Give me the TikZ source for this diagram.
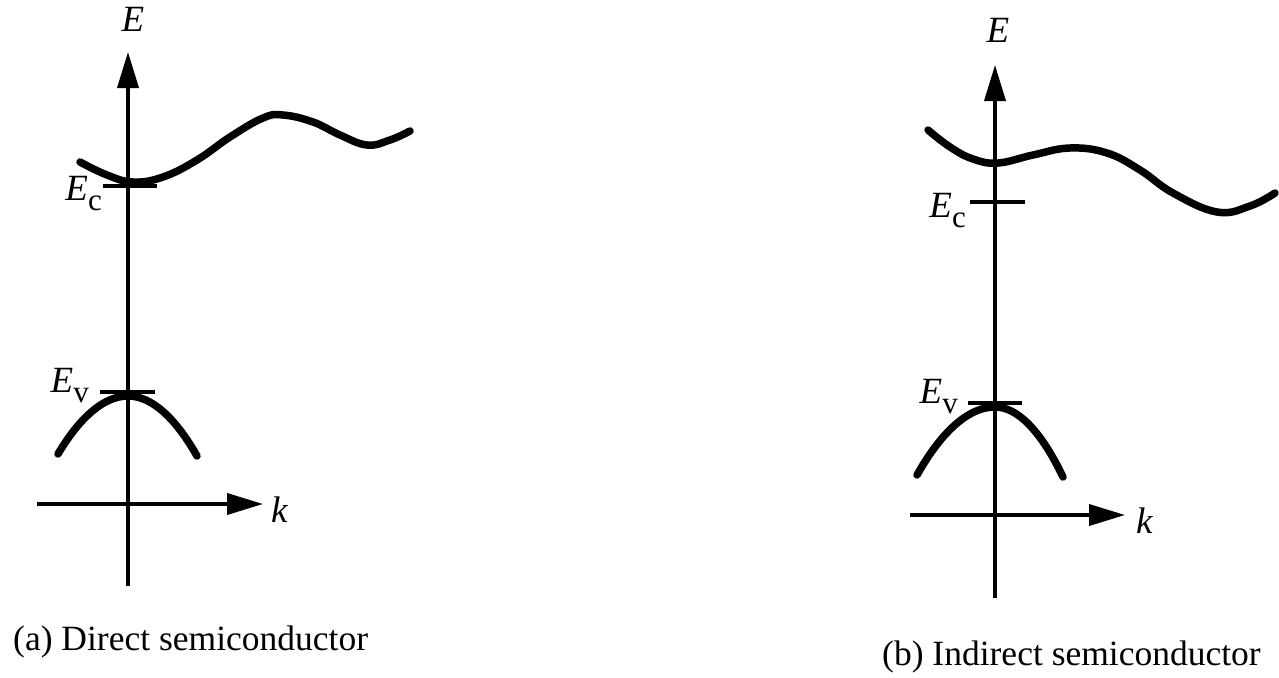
\documentclass[tikz,border=0pt]{standalone}
\usepackage{fontspec}
\setmainfont{Liberation Serif}
\usetikzlibrary{arrows.meta, positioning}

\tikzset{
  axis/.style={line width=3.8pt, -{Triangle[length=36pt,width=21pt]}},
  band/.style={line width=7.5pt, line cap=round},
  level/.style={line width=3.2pt},
  lbl/.style={inner sep=0pt, font=\fontsize{37}{40}\selectfont\itshape},
  caption/.style={inner sep=0pt, font=\fontsize{35.5}{40}\selectfont}
}
% band edge label: italic E with upright subscript
\newcommand{\edge}[1]{E\raisebox{-10pt}{\fontsize{31}{33}\selectfont\upshape #1}}

\begin{document}
\begin{tikzpicture}[x=1pt, y=-1pt]
  \useasboundingbox (0,0) rectangle (1279,677);
  % ---------------- (a) direct semiconductor ----------------
  \coordinate (aB) at (128,586);
  \coordinate (aT) at (128,52);
  \coordinate (aL) at (37,504);
  \coordinate (aR) at (263,504);
  \draw[axis] (aB) -- (aT);
  \draw[axis] (aL) -- (aR);
  \node[lbl, anchor=base] (aE) at (133,32) {E};
  \node[lbl, anchor=base west] (ak) at (271,522) {k};
  % conduction band, minimum on the axis
  \draw[band] plot[smooth, tension=0.7] coordinates {
    (80,162) (107,175) (133,182) (163,177) (197,160) (230,137)
    (263,118) (283,115) (313,122) (340,135) (367,145) (390,140) (410,131)};
  % valence band
  \draw[band] (58,454) parabola bend (128,396) (197,456);
  % levels
  \coordinate (aEc1) at (103,186);
  \coordinate (aEc2) at (157,186);
  \coordinate (aEv1) at (100,392);
  \coordinate (aEv2) at (155,392);
  \draw[level] (aEc1) -- (aEc2);
  \draw[level] (aEv1) -- (aEv2);
  \node[lbl, anchor=base east] (aEc) at (102,200) {\edge{c}};
  \node[lbl, anchor=base east] (aEv) at (89,392) {\edge{v}};
  \node[caption, anchor=base west] (acap) at (13,650) {(a) Direct semiconductor};

  % ---------------- (b) indirect semiconductor ----------------
  \coordinate (bB) at (995,598);
  \coordinate (bT) at (995,65);
  \coordinate (bL) at (910,515);
  \coordinate (bR) at (1125,515);
  \draw[axis] (bB) -- (bT);
  \draw[axis] (bL) -- (bR);
  \node[lbl, anchor=base] (bE) at (998,43) {E};
  \node[lbl, anchor=base west] (bk) at (1136,533) {k};
  % conduction band, minimum away from the axis
  \draw[band] plot[smooth, tension=0.7] coordinates {
    (928,130) (950,147) (973,159) (998,163) (1033,155) (1070,148)
    (1107,153) (1140,170) (1173,193) (1217,212) (1250,206) (1275,193)};
  % valence band
  \draw[band] (917,475) parabola bend (995,407) (1063,477);
  % levels
  \coordinate (bEc1) at (970,202);
  \coordinate (bEc2) at (1025,202);
  \coordinate (bEv1) at (968,403);
  \coordinate (bEv2) at (1022,403);
  \draw[level] (bEc1) -- (bEc2);
  \draw[level] (bEv1) -- (bEv2);
  \node[lbl, anchor=base east] (bEc) at (966,217) {\edge{c}};
  \node[lbl, anchor=base east] (bEv) at (958,403) {\edge{v}};
  \node[caption, anchor=base west] (bcap) at (882,665) {(b) Indirect semiconductor};
\end{tikzpicture}
\end{document}
